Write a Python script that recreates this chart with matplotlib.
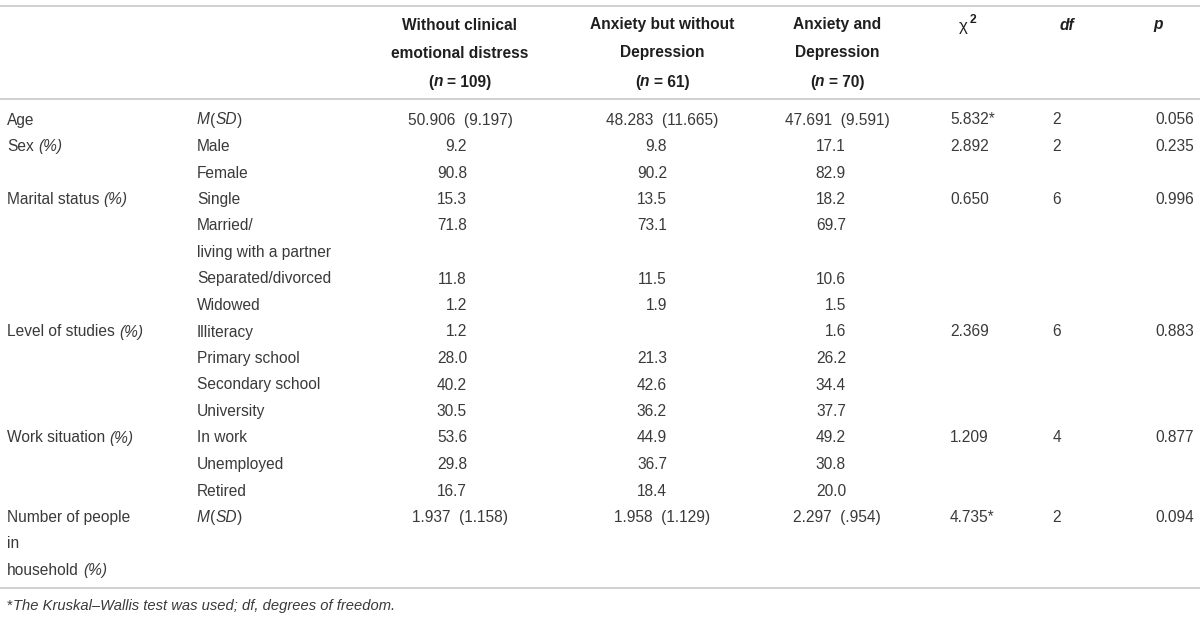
import matplotlib
matplotlib.use("Agg")
import matplotlib.pyplot as plt

# ---------------- data ----------------
col_titles = [["Without clinical", "emotional distress"],
              ["Anxiety but without", "Depression"],
              ["Anxiety and", "Depression"]]
col_n = [109, 61, 70]

groups = ["Age", "Sex", "Marital status", "Level of studies", "Work situation",
          "Number of people\nin\nhousehold"]
group_pct = [False, True, True, True, True, True]

categories = ["Male", "Female", "Single", "Married/\nliving with a partner",
              "Separated/divorced", "Widowed", "Illiteracy", "Primary school",
              "Secondary school", "University", "In work", "Unemployed", "Retired"]
category_group = [1, 1, 2, 2, 2, 2, 3, 3, 3, 3, 4, 4, 4]
pct_without = [9.2, 90.8, 15.3, 71.8, 11.8, 1.2, 1.2, 28.0, 40.2, 30.5, 53.6, 29.8, 16.7]
pct_anx = [9.8, 90.2, 13.5, 73.1, 11.5, 1.9, None, 21.3, 42.6, 36.2, 44.9, 36.7, 18.4]
pct_anxdep = [17.1, 82.9, 18.2, 69.7, 10.6, 1.5, 1.6, 26.2, 34.4, 37.7, 49.2, 30.8, 20.0]

# M(SD) groups: Age (group 0) and household (group 5)
msd_groups = [0, 5]
msd_mean = [[50.906, 48.283, 47.691], [1.937, 1.958, 2.297]]
msd_sd = [[9.197, 11.665, 9.591], [1.158, 1.129, 0.954]]

chi2 = ["5.832*", "2.892", "0.650", "2.369", "1.209", "4.735*"]
dfs = [2, 2, 6, 6, 4, 2]
pvals = ["0.056", "0.235", "0.996", "0.883", "0.877", "0.094"]

footnote = "The Kruskal\u2013Wallis test was used; df, degrees of freedom."

# ---------------- drawing ----------------
FONT = "Liberation Sans"
FS = 11.2
TXT = "#3a3a3a"
HDR = "#1f1f1f"
LINE = "#cdcdcd"

fig = plt.figure(figsize=(12, 6.2), dpi=100)
ax = fig.add_axes([0, 0, 1, 1])
ax.set_xlim(0, 1200)
ax.set_ylim(620, 0)
ax.axis("off")
renderer = fig.canvas.get_renderer()

STY = {"r": ("normal", "normal"), "i": ("normal", "italic"),
       "b": ("bold", "normal"), "bi": ("bold", "italic")}


def props(st, size, color):
    w, s = STY[st]
    return dict(fontfamily=FONT, fontweight=w, fontstyle=s, fontsize=size, color=color)


_cache = {}


def width(s, st, size):
    key = (s, st, size)
    if key not in _cache:
        t1 = ax.text(0, 0, "x" + s + "x", **props(st, size, "k"))
        t2 = ax.text(0, 0, "xx", **props(st, size, "k"))
        _cache[key] = t1.get_window_extent(renderer).width - t2.get_window_extent(renderer).width
        t1.remove()
        t2.remove()
    return _cache[key]


def rich(x, y, segs, ha="left", size=FS, color=TXT):
    ws = [width(s, st, size) for s, st in segs]
    tot = sum(ws)
    pos = x if ha == "left" else (x - tot / 2 if ha == "center" else x - tot)
    for (s, st), w in zip(segs, ws):
        stripped = s.lstrip(" ")
        lead = width(s[:len(s) - len(stripped)], st, size) if stripped != s else 0
        if stripped:
            ax.text(pos + lead, y, stripped, ha="left", va="center", **props(st, size, color))
        pos += w


# horizontal rules
for yy in (6, 99, 588):
    ax.plot([0, 1200], [yy, yy], color=LINE, lw=1.3, solid_capstyle="butt")

# header
col_center = [460, 662, 837]
col_right = [467, 667, 846]
hy = [25, 53, 82]
for c in range(3):
    for k, line in enumerate(col_titles[c]):
        rich(col_center[c], hy[k], [(line, "b")], ha="center", color=HDR)
    rich(col_center[c], hy[2], [("(", "b"), ("n", "bi"), (" = %d)" % col_n[c], "b")],
         ha="center", color=HDR)
ax.text(968, hy[0] + 2, "\u03c7", ha="right", va="center", **props("r", FS + 1, HDR))
ax.text(970, hy[0] - 5, "2", ha="left", va="center", **props("b", FS - 2.5, HDR))
rich(1067, hy[0], [("df", "bi")], ha="center", color=HDR)
rich(1158, hy[0], [("p", "bi")], ha="center", color=HDR)

# rows
Y0, DY = 120, 26.5
line_idx = 0
for g, gname in enumerate(groups):
    start = line_idx
    glines = gname.split("\n")
    for k, gl in enumerate(glines):
        segs = [(gl, "r")]
        if group_pct[g] and k == len(glines) - 1:
            segs.append((" (%)", "i"))
        rich(7, Y0 + DY * (start + k), segs)
    used = 0
    if g in msd_groups:
        m = msd_groups.index(g)
        y = Y0 + DY * start
        rich(197, y, [("M", "i"), ("(", "r"), ("SD", "i"), (")", "r")])
        for c in range(3):
            sd = "%.3f" % msd_sd[m][c]
            if sd.startswith("0"):
                sd = sd[1:]
            rich(col_center[c], y, [("%.3f  (%s)" % (msd_mean[m][c], sd), "r")], ha="center")
        used = 1
    else:
        for i, cat in enumerate(categories):
            if category_group[i] != g:
                continue
            y = Y0 + DY * (start + used)
            clines = cat.split("\n")
            for k, cl in enumerate(clines):
                rich(197, y + DY * k, [(cl, "r")])
            for c, vals in enumerate((pct_without, pct_anx, pct_anxdep)):
                if vals[i] is not None:
                    rich(col_right[c], y, [("%.1f" % vals[i], "r")], ha="right")
            used += len(clines)
    ys = Y0 + DY * start
    rich(950, ys, [(chi2[g], "r")], ha="left")
    rich(1057, ys, [(str(dfs[g]), "r")], ha="center")
    rich(1194, ys, [(pvals[g], "r")], ha="right")
    line_idx = start + max(len(glines), used)

# footnote
rich(7, 606, [("*", "r"), (footnote, "i")], size=FS - 0.6)

fig.savefig("out.png", dpi=100, facecolor="white")
